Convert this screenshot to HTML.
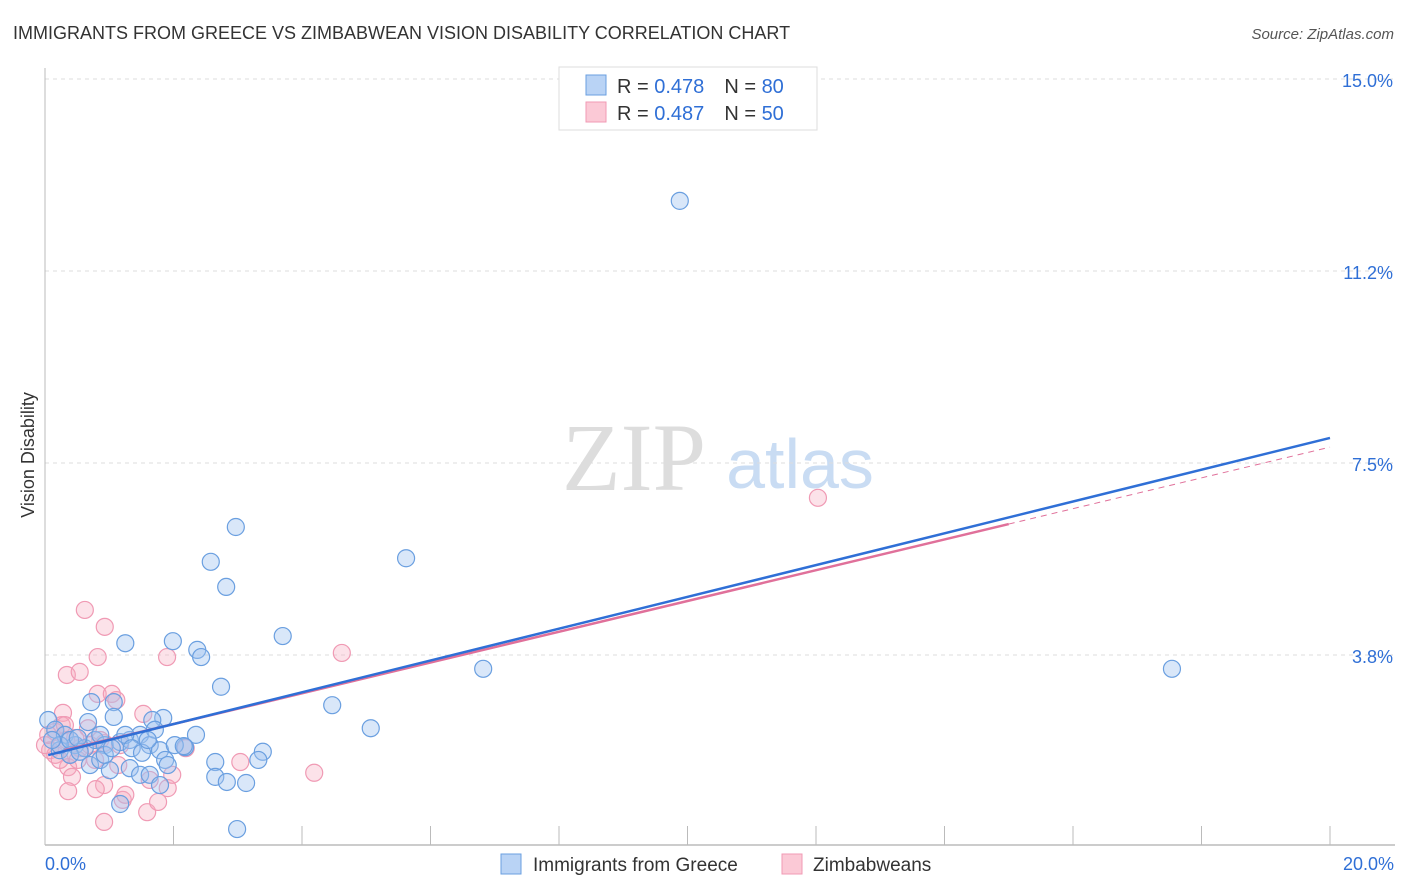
<!DOCTYPE html>
<html><head><meta charset="utf-8">
<style>
body{margin:0;background:#fff;font-family:"Liberation Sans",sans-serif;}
svg{display:block}
</style></head>
<body>
<svg id="chart" width="1406" height="892">
<text x="13" y="39" font-size="18" fill="#333">IMMIGRANTS FROM GREECE VS ZIMBABWEAN VISION DISABILITY CORRELATION CHART</text>
<text x="1394" y="39" font-size="15" fill="#555" font-style="italic" text-anchor="end">Source: ZipAtlas.com</text>
<g>
<text x="634" y="490" font-size="96" fill="#ddd" font-family="Liberation Serif,serif" text-anchor="middle">ZIP</text>
<text x="800" y="488" font-size="70" fill="#c9dcf3" text-anchor="middle">atlas</text>
</g>
<g id="grid"></g>
<g id="axes"></g>
<g id="points"></g>
<g id="lines"></g>
<text transform="translate(34,455) rotate(-90)" font-size="18" fill="#333" text-anchor="middle">Vision Disability</text>
<g>
<rect x="559" y="67" width="258" height="63" fill="#fff" stroke="#ddd"/>
<rect x="586" y="75" width="20" height="20" fill="#b9d3f5" stroke="#6a9fe0"/>
<rect x="586" y="102" width="20" height="20" fill="#fbc9d6" stroke="#f09ab4"/>
<text x="617" y="93" font-size="20" fill="#333">R = <tspan fill="#2f6fd6">0.478</tspan><tspan dx="20">N = </tspan><tspan fill="#2f6fd6">80</tspan></text>
<text x="617" y="120" font-size="20" fill="#333">R = <tspan fill="#2f6fd6">0.487</tspan><tspan dx="20">N = </tspan><tspan fill="#2f6fd6">50</tspan></text>
</g>
<g>
<rect x="501" y="854" width="20" height="20" fill="#b9d3f5" stroke="#6a9fe0"/>
<text x="533" y="871" font-size="19" fill="#333">Immigrants from Greece</text>
<rect x="782" y="854" width="20" height="20" fill="#fbc9d6" stroke="#f09ab4"/>
<text x="813" y="871" font-size="19" fill="#333">Zimbabweans</text>
</g>
</svg>
<script>
const xTicks=[0,2,4,6,8,10,12,14,16,18,20];
const yTicks=[3.75,7.5,11.25,15];
const yTickLabels=["3.8%","7.5%","11.2%","15.0%"];
const blueX=[9.88,2.97,2.58,5.62,2.82,3.70,1.25,1.99,2.37,2.43,6.82,17.54,2.74,0.72,1.07,4.47,5.07,1.07,1.84,1.67,2.35,3.39,0.05,0.16,0.31,0.47,0.62,0.78,0.93,1.17,1.32,1.48,1.63,1.79,0.23,0.39,0.54,0.70,0.86,1.01,1.32,1.48,1.87,1.91,3.32,2.65,2.65,2.83,3.13,1.63,1.79,1.17,2.99,2.18,2.02,1.71,1.25,1.35,1.51,0.67,0.86,0.23,0.11,0.39,0.51,0.93,1.04,1.60,2.16];
const blueY=[12.62,6.25,5.57,5.64,5.08,4.12,3.98,4.02,3.85,3.71,3.48,3.48,3.13,2.83,2.83,2.77,2.32,2.54,2.52,2.48,2.19,1.86,2.48,2.29,2.19,1.99,1.93,2.09,1.99,2.05,2.09,2.19,1.99,1.89,1.89,1.80,1.86,1.60,1.70,1.50,1.54,1.41,1.70,1.60,1.70,1.66,1.37,1.27,1.25,1.41,1.21,0.84,0.35,1.95,1.99,2.29,2.19,1.93,1.84,2.44,2.19,1.99,2.09,2.09,2.13,1.80,1.93,2.09,1.97];
const pinkX=[0.62,0.93,0.82,1.90,0.34,0.54,4.62,0.82,1.04,12.03,1.11,1.53,0.28,0.26,0.67,0.16,0.08,0.23,0.39,0.54,0.47,0.70,0.92,1.14,0.36,0.42,0.92,0.36,0.79,1.21,0.92,1.59,1.76,1.91,1.98,3.04,4.19,2.19,0.86,0.16,0.00,0.33,1.17,0.23,0.51,0.78,1.63,1.25,0.05,0.31];
const pinkY=[4.63,4.30,3.71,3.71,3.36,3.42,3.79,2.99,2.99,6.82,2.87,2.60,2.62,2.38,2.32,2.25,1.89,1.99,1.80,1.93,2.13,1.99,2.03,1.60,1.56,1.37,1.21,1.09,1.13,0.92,0.49,0.68,0.88,1.15,1.41,1.66,1.45,1.93,2.09,1.80,1.99,2.09,1.99,1.70,1.70,1.70,1.31,1.02,2.19,2.38];
const blueTrend=[1.78,7.99];
const pinkTrend=[1.80,7.81];
const pinkSolidEnd=15;
const X0=45,X1=1330,Y0=847,YPX=51.2;
const sx=v=>X0+(X1-X0)*v/20;
const sy=v=>Y0-v*YPX;
const NS="http://www.w3.org/2000/svg";
function mk(tag,attrs,parent){const e=document.createElementNS(NS,tag);for(const k in attrs)e.setAttribute(k,attrs[k]);parent.appendChild(e);return e;}
const grid=document.getElementById('grid'),axes=document.getElementById('axes'),pts=document.getElementById('points'),lines=document.getElementById('lines');
yTicks.forEach((t,i)=>{
 const l=mk('line',{x1:X0,x2:1395,y1:sy(t),y2:sy(t),stroke:'#ddd','stroke-dasharray':'4,4'},grid);
 
 
 const tx=mk('text',{x:1393,y:sy(t)+8,'font-size':18,fill:'#2f6fd6','text-anchor':'end'},axes);
 tx.textContent=yTickLabels[i];
 
 
});
const yl=mk('line',{x1:X0,x2:X0,y1:68,y2:845,stroke:'#bbb'},axes);


const xl=mk('line',{x1:X0,x2:1395,y1:845,y2:845,stroke:'#bbb','stroke-width':1.5},axes);


xTicks.forEach(t=>{
 if(t===0)return;
 const l=mk('line',{x1:sx(t),x2:sx(t),y1:826,y2:845,stroke:'#bbb'},axes);
 
 
});
const xa=mk('text',{x:45,y:870,'font-size':18,fill:'#2f6fd6'},axes);
xa.textContent=xTicks[0].toFixed(1)+'%';


const xb=mk('text',{x:1394,y:870,'font-size':18,fill:'#2f6fd6','text-anchor':'end'},axes);
xb.textContent=xTicks[xTicks.length-1].toFixed(1)+'%';


pinkX.forEach((v,i)=>{
 const c=mk('circle',{cx:sx(v),cy:sy(pinkY[i]),r:8.5,fill:'rgba(246,172,192,0.35)',stroke:'#f09ab4','stroke-width':1.2},pts);
 
 
});
blueX.forEach((v,i)=>{
 const c=mk('circle',{cx:sx(v),cy:sy(blueY[i]),r:8.5,fill:'rgba(160,196,240,0.4)',stroke:'#6a9fe0','stroke-width':1.2},pts);
 
 
});
const pAt=x=>pinkTrend[0]+(pinkTrend[1]-pinkTrend[0])*x/20;
const pl=mk('line',{x1:sx(0.3),y1:sy(pAt(0.3)),x2:sx(pinkSolidEnd),y2:sy(pAt(pinkSolidEnd)),stroke:'#e0709a','stroke-width':2.5},lines);


const pd=mk('line',{x1:sx(pinkSolidEnd),y1:sy(pAt(pinkSolidEnd)),x2:sx(20),y2:sy(pinkTrend[1]),stroke:'#e0709a','stroke-width':1,'stroke-dasharray':'6,5'},lines);


const bAt=x=>blueTrend[0]+(blueTrend[1]-blueTrend[0])*x/20;
const bl=mk('line',{x1:sx(0.05),y1:sy(bAt(0.05)),x2:sx(20),y2:sy(blueTrend[1]),stroke:'#2f6fd6','stroke-width':2.5},lines);


</script>
</body></html>
